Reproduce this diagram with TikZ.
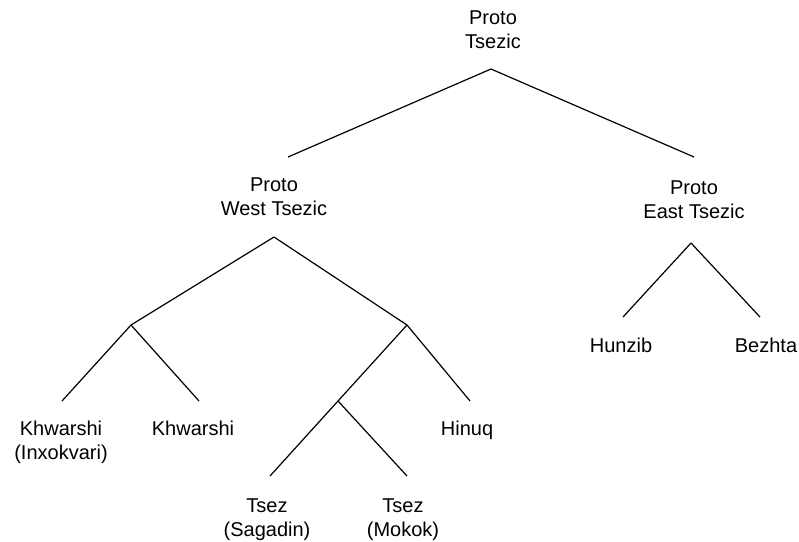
\documentclass[tikz,border=0pt]{standalone}
\usepackage{fontspec}
\setmainfont{Liberation Sans}
\begin{document}
\begin{tikzpicture}[
				x=1pt, y=-1pt,
				line width=1.2pt,
				lang/.style={align=center, anchor=north, inner sep=0pt,
					font=\fontsize{20}{24}\selectfont}]
				
			\useasboundingbox (0,0) rectangle (799,541);
			
			% languages
			\node[lang] (proto_tsezic) at (493,10) {Proto\\Tsezic};
			\node[lang] (proto_west) at (274,177) {Proto\\West Tsezic};
			\node[lang] (proto_east) at (694,180) {Proto\\East Tsezic};
			\node[lang] (hunzib) at (621,337) {Hunzib};
			\node[lang] (bezhta) at (766,337) {Bezhta};
			\node[lang] (khwarshi_inx) at (61,420) {Khwarshi\\(Inxokvari)};
			\node[lang] (khwarshi) at (193,420) {Khwarshi};
			\node[lang] (hinuq) at (467,420) {Hinuq};
			\node[lang] (tsez_sagadin) at (267,498) {Tsez\\(Sagadin)};
			\node[lang] (tsez_mokok) at (403,498) {Tsez\\(Mokok)};
			
			% branch points
			\coordinate (tsezic_split) at (491,69);
			\coordinate (west_top) at (288,157);
			\coordinate (east_top) at (694,157);
			\coordinate (west_split) at (274,237);
			\coordinate (east_split) at (691,243);
			\coordinate (khwarshi_split) at (131,325);
			\coordinate (tsez_hinuq_split) at (407,325);
			\coordinate (tsez_split) at (338,401);
			\coordinate (hunzib_top) at (623,317);
			\coordinate (bezhta_top) at (760,317);
			\coordinate (khwarshi_inx_top) at (62,401);
			\coordinate (khwarshi_top) at (199,401);
			\coordinate (hinuq_top) at (470,401);
			\coordinate (sagadin_top) at (270,476);
			\coordinate (mokok_top) at (407,476);
	
			\draw	(tsezic_split) edge (west_top)
					(tsezic_split) edge (east_top);
			
			\draw	(west_split) edge (khwarshi_split)
					(west_split) edge (tsez_hinuq_split);
			
			\draw	(east_split) edge (hunzib_top)
					(east_split) edge (bezhta_top);
			
			\draw	(khwarshi_split) edge (khwarshi_inx_top)
					(khwarshi_split) edge (khwarshi_top);
			
			\draw	(tsez_hinuq_split) edge (tsez_split)
					(tsez_hinuq_split) edge (hinuq_top);
			
			\draw	(tsez_split) edge (sagadin_top)
					(tsez_split) edge (mokok_top);
				
		\end{tikzpicture}
\end{document}
